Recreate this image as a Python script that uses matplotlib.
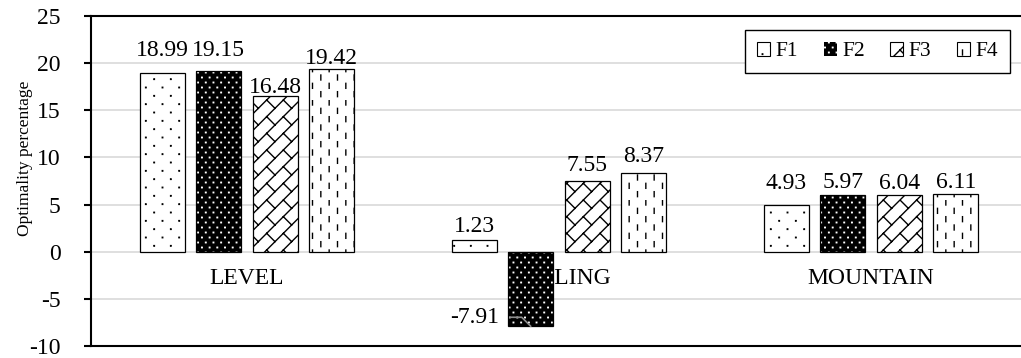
import warnings
import numpy as np
import matplotlib
matplotlib.use('Agg')
import matplotlib.pyplot as plt
from matplotlib import hatch as mhatch
from matplotlib.patches import Patch
from matplotlib.path import Path

categories = ['LEVEL', 'ROLLING', 'MOUNTAIN']
series_names = ['F1', 'F2', 'F3', 'F4']
f1 = [18.99, 1.23, 4.93]
f2 = [19.15, -7.91, 5.97]
f3 = [16.48, 7.55, 6.04]
f4 = [19.42, 8.37, 6.11]
yticks = [-10, -5, 0, 5, 10, 15, 20, 25]

# gap (points) between bar top and label baseline, per series / category
label_gap = [[12, 5.5, 12], [11, 0, 5], [2.5, 7, 4.5], [3.5, 8, 4.5]]

warnings.filterwarnings('ignore', category=matplotlib.MatplotlibDeprecationWarning)


# --- extra fill patterns -------------------------------------------------
def staggered_dots(char, cols, rows, side):
    class Dots(mhatch.HatchPatternBase):
        def __init__(self, hatch, density):
            self.num_vertices = 5 * cols * rows if char in hatch else 0

        def set_vertices_and_codes(self, vertices, codes):
            h = side / 2
            k = 0
            for r in range(rows):
                yc = (r + 0.5) / rows
                shift = 0.5 * (r % 2)
                for c in range(cols):
                    xc = (c + 0.25 + shift) / cols
                    vertices[k:k + 5] = [(xc - h, yc - h), (xc + h, yc - h),
                                         (xc + h, yc + h), (xc - h, yc + h),
                                         (xc - h, yc - h)]
                    codes[k:k + 5] = [Path.MOVETO, Path.LINETO, Path.LINETO,
                                      Path.LINETO, Path.CLOSEPOLY]
                    k += 5
    return Dots


class DashedVertical(mhatch.HatchPatternBase):
    def __init__(self, hatch, density):
        self.num_rows = hatch.count('!') * density
        self.num_cols = 2 * self.num_rows
        self.num_vertices = self.num_rows * self.num_cols * 2

    def set_vertices_and_codes(self, vertices, codes):
        dash = 0.3 / self.num_rows
        k = 0
        for c in range(self.num_cols):
            xc = (c + 0.5) / self.num_cols
            shift = 0.5 * (c % 2)
            for r in range(self.num_rows):
                y0 = (r + 0.2 + shift) / self.num_rows
                vertices[k] = (xc, y0)
                vertices[k + 1] = (xc, y0 + dash)
                codes[k] = Path.MOVETO
                codes[k + 1] = Path.LINETO
                k += 2


class Trellis(mhatch.HatchPatternBase):
    # '/' lines with staggered '\' rungs between neighbours
    n = 6

    def __init__(self, hatch, density):
        n = self.n
        self.segs = []
        if '#' in hatch:
            for k in range(-n, n + 1):
                self.segs.append(((k / n - 1, -1), (k / n + 2, 2)))
            for k in range(-n, n):
                for j in range(-1, n + 2):
                    c = j * 2 / n + (k % 2) / n
                    p = ((c + k / n) / 2, (c - k / n) / 2)
                    self.segs.append((p, (p[0] + 0.5 / n, p[1] - 0.5 / n)))
        self.num_vertices = 2 * len(self.segs)

    def set_vertices_and_codes(self, vertices, codes):
        for i, (a, b) in enumerate(self.segs):
            vertices[2 * i] = a
            vertices[2 * i + 1] = b
            codes[2 * i] = Path.MOVETO
            codes[2 * i + 1] = Path.LINETO


mhatch._hatch_types.append(staggered_dots(':', 6, 12, 0.005))
mhatch._hatch_types.append(staggered_dots(';', 13, 20, 0.005))
mhatch._hatch_types.append(DashedVertical)
mhatch._hatch_types.append(Trellis)

plt.rcParams['font.family'] = ['Liberation Serif', 'DejaVu Serif']
plt.rcParams['axes.unicode_minus'] = False
plt.rcParams['hatch.linewidth'] = 1.0

fig = plt.figure(figsize=(10.21, 3.58), dpi=100)
ax = fig.add_axes([91 / 1021, 12 / 358, 936 / 1021, 330 / 358])

x = np.arange(len(categories))
offsets = [-0.2716, -0.0905, 0.0905, 0.2716]
w = 0.144

ax.bar(x + offsets[0], f1, w, facecolor='white', edgecolor='black', hatch=':', lw=0.9, zorder=2)
ax.bar(x + offsets[1], f2, w, facecolor='black', edgecolor='white', hatch=';', lw=0, zorder=2)
ax.bar(x + offsets[1], f2, w, fill=False, edgecolor='black', lw=0.9, zorder=2)
ax.bar(x + offsets[2], f3, w, facecolor='white', edgecolor='black', hatch='#', lw=0.9, zorder=2)
ax.bar(x + offsets[3], f4, w, facecolor='white', edgecolor='black', hatch='!', lw=0.9, zorder=2)

# value labels
for s, (vals, xo) in enumerate(zip([f1, f2, f3, f4], offsets)):
    for i, v in enumerate(vals):
        if v >= 0:
            ax.annotate(f'{v:.2f}', (x[i] + xo, v), xytext=(0, label_gap[s][i]),
                        textcoords='offset points', ha='center', va='baseline', fontsize=17)
        else:
            ax.annotate(f'{v:.2f}', (x[i] + xo, v), xytext=(-23, 6.5), textcoords='offset points',
                        ha='right', va='center', fontsize=17,
                        arrowprops=dict(arrowstyle='-', color='#8c8c8c', lw=1.2,
                                        connectionstyle='angle,angleA=0,angleB=135,rad=0',
                                        relpos=(1, 0.5), shrinkA=6, shrinkB=0))

# category names sit just under the zero line, behind the bars
for i, cat in enumerate(categories):
    ax.text(x[i], -2.8, cat, ha='center', va='center', fontsize=17, zorder=1.5)

ax.set_xlim(-0.5, 2.5)
ax.set_ylim(-10, 25)
ax.set_yticks(yticks)
ax.set_xticks([])
ax.yaxis.grid(True, color='#d9d9d9', lw=1.2)
ax.set_axisbelow(True)
ax.tick_params(axis='y', direction='out', length=5, width=1.5, pad=17, labelsize=17)
for side in ['left', 'top', 'bottom']:
    ax.spines[side].set_linewidth(1.5)
    ax.spines[side].set_color('black')
ax.spines['right'].set_visible(False)

ax.set_ylabel('Optimality percentage', fontsize=12.5)
ax.yaxis.set_label_coords(-0.062, 0.568)

handles = [Patch(facecolor='white', edgecolor='black', hatch=':', lw=0.8),
           Patch(facecolor='black', edgecolor='white', hatch=';', lw=0),
           Patch(facecolor='white', edgecolor='black', hatch='#', lw=0.8),
           Patch(facecolor='white', edgecolor='black', hatch='!', lw=0.8)]
leg = ax.legend(handles, series_names, ncol=4, loc='upper right',
                bbox_to_anchor=(1010 / 1021, 1 - 30 / 358), bbox_transform=fig.transFigure,
                borderaxespad=0, fontsize=15.5, handlelength=0.6, handleheight=0.6,
                handletextpad=0.25, columnspacing=1.2, borderpad=0.55, fancybox=False,
                edgecolor='black', framealpha=1)
leg.get_frame().set_linewidth(1.0)

fig.savefig('out.png', dpi=100)
